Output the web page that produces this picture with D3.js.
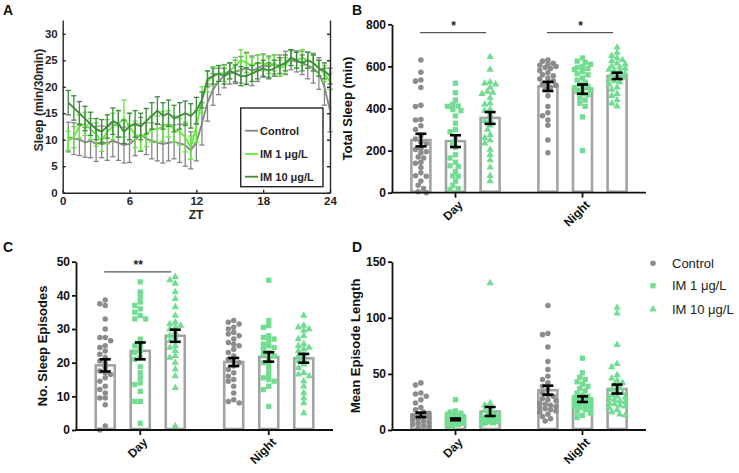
<!DOCTYPE html>
<html><head><meta charset="utf-8">
<script src="https://cdn.jsdelivr.net/npm/d3@7"></script>
<style>
body{margin:0;background:#fff;}
svg{display:block;font-family:"Liberation Sans",Arial,sans-serif;}
</style></head>
<body>
<svg id="chart" width="739" height="473"></svg>
<script>
// ---------------- DATA ----------------
const seriesNames = ["Control", "IM 1 μg/L", "IM 10 μg/L"];
const groups = ["Day", "Night"];

// Panel A: sleep per 30 min (ZT 0.5 .. 24)
const zt = [0.5,1,1.5,2,2.5,3,3.5,4,4.5,5,5.5,6,6.5,7,7.5,8,8.5,9,9.5,10,10.5,11,11.5,12,12.5,13,13.5,14,14.5,15,15.5,16,16.5,17,17.5,18,18.5,19,19.5,20,20.5,21,21.5,22,22.5,23,23.5,24];
const ctrlSleep = [10.5,10.2,10.0,9.5,9.8,9.2,9.6,9.3,9.8,9.4,9.0,9.2,10.0,11.0,10.2,9.8,9.5,9.2,9.4,9.6,9.3,9.0,8.0,9.5,13.0,17.0,19.5,21.0,22.0,22.5,22.8,23.2,23.5,23.0,23.5,24.0,23.8,24.2,24.0,24.5,25.0,24.8,24.5,24.0,23.5,22.5,20.0,15.5];
const ctrlErr   = [2.8,3.0,3.0,2.8,3.2,3.3,3.0,3.2,3.0,3.3,3.4,3.5,3.0,3.2,3.0,3.4,3.5,3.6,3.4,3.2,3.6,4.0,3.5,3.5,4.0,3.5,3.0,2.5,2.2,2.0,2.2,2.5,3.0,2.8,2.5,2.2,2.0,1.8,2.0,2.2,1.8,2.0,2.2,2.5,2.8,3.0,3.5,4.0];
const im1Sleep  = [9.8,10.5,12.5,13.0,12.0,11.0,9.8,11.5,12.5,13.0,14.0,12.5,11.0,10.5,11.0,12.0,12.0,12.5,13.0,12.0,11.5,10.5,8.5,12.5,17.5,21.0,22.0,22.5,22.5,23.0,24.0,25.0,24.5,24.0,24.5,24.5,24.0,24.5,23.5,24.0,25.5,25.0,25.5,25.0,24.5,23.5,22.5,21.0];
const im1Err    = [1.8,2.0,2.2,2.2,2.0,2.2,2.0,2.3,2.5,2.5,3.5,2.5,2.5,2.5,2.3,2.5,2.5,2.8,2.5,2.5,2.5,2.8,2.2,3.0,2.5,2.0,1.8,1.5,1.5,1.5,1.5,2.0,1.8,1.5,1.5,1.5,1.5,1.5,1.5,1.5,1.5,1.5,1.5,1.5,1.5,1.5,1.5,1.5];
const im10Sleep = [17.0,16.0,15.0,14.0,13.0,12.0,11.5,12.5,13.5,13.0,11.5,12.5,13.0,12.5,13.5,14.5,15.5,14.5,15.0,14.0,14.5,15.0,14.5,15.5,17.5,21.5,22.0,22.5,22.0,23.0,22.5,22.0,22.0,22.5,23.0,23.5,23.0,23.5,24.0,24.5,25.5,25.0,24.5,25.0,24.5,23.5,23.0,22.0];
const im10Err   = [2.3,2.3,2.2,2.3,2.2,2.0,2.3,2.2,2.5,2.5,2.2,2.5,2.5,2.5,2.4,2.5,2.6,2.5,2.5,2.5,2.5,2.3,2.3,2.5,1.5,1.5,1.5,1.5,1.5,1.5,1.6,1.8,1.6,1.5,1.5,1.5,1.5,1.5,1.5,1.5,1.5,1.5,1.5,1.5,1.5,1.5,1.5,1.5];
const ztTicks = [0,6,12,18,24];
const sleepTicks = [0,5,10,15,20,25,30];

// Panel B: total sleep (min) — bar mean, SEM, and individual flies
const totalMean = {Day:[250,245,355], Night:[505,492,555]};
const totalSem  = {Day:[30,28,28], Night:[22,22,15]};
const totalDayCtrl = [630,572,535,530,500,415,410,345,348,318,300,270,255,240,232,210,205,195,190,170,165,145,140,120,95,80,78,55,35,20,5,0];
const totalDayIm1  = [520,475,440,420,412,410,395,390,365,330,300,290,255,235,215,180,165,145,128,125,100,80,78,55,35,20,15];
const totalDayIm10 = [645,585,525,520,515,500,480,475,470,450,425,420,395,390,370,345,340,320,300,275,260,250,235,205,180,155,120,80,55];
const totalNightCtrl = [630,625,615,610,605,600,595,590,580,570,560,555,545,540,530,520,515,510,500,490,460,410,380,365,345,320,250,190];
const totalNightIm1  = [640,625,620,610,600,595,590,585,575,565,560,545,535,525,515,505,500,495,490,480,470,465,450,440,425,410,360,200];
const totalNightIm10 = [690,665,650,640,630,625,615,610,600,595,590,585,580,575,565,560,550,545,540,530,525,515,500,490,470,460,440,425,410];
const totalTicks = [0,200,400,600,800];

// Panel C: number of sleep episodes
const episMean = {Day:[19.2,23.5,28.0], Night:[20.2,21.7,21.3]};
const episSem  = {Day:[1.8,2.5,1.8], Night:[1.2,1.4,1.3]};
const episDayCtrl = [38.6,37.5,37.0,33.0,30.0,27.5,27.5,26.5,25.0,24.5,23.5,22.5,21.5,20.5,20.0,18.5,17.5,17.0,16.5,15.5,14.5,13.0,12.0,11.0,9.5,9.5,7.5,1.2,0];
const episDayIm1  = [44,41,39.5,38,37,36,35,34,33,33,27,25,25,23.5,23,21.5,21,18.8,17,15.5,14,13.5,11.5,8.5,8.5,2];
const episDayIm10 = [45.5,44.5,43.5,41,39,36.5,34,32,31.5,31,30.5,30,29,28,27.5,26.5,25,24.5,23.5,22,21.5,20,18,16,12.5,1.2];
const episNightCtrl = [32.5,32,31.5,30.5,30,29,28.5,28,27,26,25.5,25,24,23,22,21,20.5,20,19,18,17,16,15,14.5,13,11,9,8.5,8];
const episNightIm1  = [44.5,32.5,31,30.5,28,27.5,27,26.5,25.5,25,24.5,24,23,22.5,22,21,20,19.5,18,16.5,15.5,15,14.5,13,12,7];
const episNightIm10 = [34,31,30.5,30,29.5,28,27,25.5,25,24.5,24,23.5,22.5,22,21,20.5,19.5,18.5,17,16.5,16,14.5,13,11,9.5,8,5];
const episTicks = [0,10,20,30,40,50];

// Panel D: mean episode length
const lenMean = {Day:[13.5,9.5,16.5], Night:[35.5,27.5,36.5]};
const lenSem  = {Day:[2,0.8,4], Night:[4,2.5,4]};
const lenDayCtrl = [42,40,33,32,30,27,24,20,18,16,15,14,13,12,11,10,9,8,7,6,5,4,3,2];
const lenDayIm1  = [27,17,16,15,14,13,12,12,11,11,10,10,9,9,9,8,8,7,7,6,6,5,5,4,3];
const lenDayIm10 = [131,24,22,19,17,15,14,13,12,12,11,10,10,9,9,8,8,7,7,6,6,5];
const lenNightCtrl = [111,86,85,74,61,54,48,45,42,39,36,33,31,30,28,27,26,24,23,22,21,20,19,18,17,16,14,12,10,8];
const lenNightIm1  = [64,51,47,45,43,41,39,37,35,33,31,30,29,28,27,26,25,24,23,22,21,20,19,18,16,15,13,11];
const lenNightIm10 = [109,104,76,59,56,49,46,44,42,40,38,36,34,33,31,30,29,28,27,26,25,24,23,22,21,20,18,16,14,13];
const lenTicks = [0,50,100,150];

// ---------------- STYLE ----------------
const lineColors = ["#858585", "#62e83a", "#3f8a3f"];
const ptColors = ["#8c8c8c", "#72dd92", "#72dd92"];
const shapes = [d3.symbolCircle, d3.symbolSquare, d3.symbolTriangle];
const shapeSize = [24, 28, 24];
const barStroke = "#a3a3a3";

const svg = d3.select("#chart");

// ---------------- PANEL A ----------------
(function(){
  const x = d3.scaleLinear().domain([0,24]).range([62.7,330]);
  const y = d3.scaleLinear().domain([0,32.6]).range([192.7,20]);
  const g = svg.append("g");
  const data = [
    {name:seriesNames[0], m:ctrlSleep, e:ctrlErr, c:lineColors[0]},
    {name:seriesNames[1], m:im1Sleep, e:im1Err, c:lineColors[1]},
    {name:seriesNames[2], m:im10Sleep, e:im10Err, c:lineColors[2]}
  ];
  data.forEach(s=>{
    const gs = g.append("g").attr("stroke", s.c).attr("fill","none").attr("stroke-width",1.3);
    zt.forEach((t,i)=>{
      const cx = x(t), y1 = y(s.m[i]-s.e[i]), y2 = y(s.m[i]+s.e[i]);
      gs.append("line").attr("x1",cx).attr("x2",cx).attr("y1",y1).attr("y2",y2);
      gs.append("line").attr("x1",cx-2.6).attr("x2",cx+2.6).attr("y1",y1).attr("y2",y1);
      gs.append("line").attr("x1",cx-2.6).attr("x2",cx+2.6).attr("y1",y2).attr("y2",y2);
    });
    g.append("path").datum(s.m).attr("fill","none").attr("stroke",s.c).attr("stroke-width",1.8)
      .attr("d", d3.line().x((d,i)=>x(zt[i])).y(d=>y(d)));
  });
  // axes
  const ax = svg.append("g");
  const yl = ax.append("g").attr("transform","translate(62.7,0)")
    .call(d3.axisLeft(y).tickValues(sleepTicks).tickSize(-3).tickPadding(5).tickSizeOuter(0));
  const yr = ax.append("g").attr("transform","translate(330,0)")
    .call(d3.axisRight(y).tickValues(sleepTicks).tickSize(-3).tickFormat("").tickSizeOuter(0));
  const xb = ax.append("g").attr("transform","translate(0,192.7)")
    .call(d3.axisBottom(x).tickValues(ztTicks).tickSize(-3).tickPadding(4).tickSizeOuter(0));
  [yl,yr,xb].forEach(a=>{
    a.selectAll("path,line").attr("stroke","#262626").attr("stroke-width",1.4);
    a.selectAll("text").attr("font-family","Liberation Sans, Arial").attr("font-weight","bold").attr("font-size",11.5).attr("fill","#262626");
  });
  svg.append("text").attr("x",196).attr("y",219).attr("text-anchor","middle")
    .attr("font-weight","bold").attr("font-size",12).attr("fill","#262626").text("ZT");
  svg.append("text").attr("transform","translate(43,100) rotate(-90)").attr("text-anchor","middle")
    .attr("font-weight","bold").attr("font-size",12).attr("fill","#262626").text("Sleep (min/30min)");
  // legend
  const lg = svg.append("g");
  lg.append("rect").attr("x",240.7).attr("y",108).attr("width",82.3).attr("height",78.7)
    .attr("fill","#fff").attr("stroke","#262626").attr("stroke-width",1.4);
  data.forEach((s,i)=>{
    const yy = [130.7,154,176.7][i];
    lg.append("line").attr("x1",245).attr("x2",258).attr("y1",yy).attr("y2",yy).attr("stroke",s.c).attr("stroke-width",1.8);
    lg.append("text").attr("x",260).attr("y",yy+4).attr("font-weight","bold").attr("font-size",11).attr("fill","#262626").text(s.name);
  });
})();

// ---------------- BAR+SCATTER PANELS ----------------
function swarm(vals, y, s, maxOff){
  const pts = vals.map(v=>({v, y:y(v), x:0})).sort((a,b)=>a.y-b.y);
  const placed = [];
  pts.forEach(p=>{
    let best = 0, bestD = -1;
    for(let k=0;k<40;k++){
      const off = k===0 ? 0 : (k%2 ? -1 : 1)*Math.ceil(k/2)*s/2;
      if(Math.abs(off) > maxOff) break;
      let dmin = Infinity;
      placed.forEach(q=>{ const d=(q.x-off)*(q.x-off)+(q.y-p.y)*(q.y-p.y); if(d<dmin) dmin=d; });
      if(dmin >= s*s*0.85){ best = off; bestD = Infinity; break; }
      if(dmin > bestD){ bestD = dmin; best = off; }
    }
    p.x = best;
    placed.push(p);
  });
  return pts;
}

function barPanel(opt){
  const g = svg.append("g");
  const x = d3.scaleBand().domain(groups).range([opt.x0,opt.x1]).paddingInner(0).paddingOuter(0);
  const inner = d3.scalePoint().domain([0,1,2]).range([-0.2725*x.bandwidth(), 0.2725*x.bandwidth()]);
  const y = d3.scaleLinear().domain([0,opt.ymax]).range([opt.y0,opt.y1]);
  const bw = 19;
  groups.forEach(gr=>{
    [0,1,2].forEach(si=>{
      const cx = x(gr)+x.bandwidth()/2+inner(si);
      const m = opt.mean[gr][si];
      g.append("rect").attr("x",cx-bw/2).attr("y",y(m)).attr("width",bw).attr("height",y(0)-y(m)-1)
        .attr("fill","#fff").attr("stroke",barStroke).attr("stroke-width",2.6);
    });
  });
  groups.forEach(gr=>{
    [0,1,2].forEach(si=>{
      const cx = x(gr)+x.bandwidth()/2+inner(si);
      const pts = swarm(opt.points[gr][si], y, 5.4, 9.5);
      g.selectAll(null).data(pts).enter().append("path")
        .attr("d", d3.symbol().type(shapes[si]).size(shapeSize[si]))
        .attr("transform", d=>`translate(${cx+d.x},${d.y})`)
        .attr("fill", ptColors[si]);
    });
  });
  groups.forEach(gr=>{
    [0,1,2].forEach(si=>{
      const cx = x(gr)+x.bandwidth()/2+inner(si);
      const m = opt.mean[gr][si], e = opt.sem[gr][si];
      const y1 = y(m-e), y2 = y(m+e);
      const eg = g.append("g").attr("stroke","#000").attr("stroke-width",2.6);
      eg.append("line").attr("x1",cx).attr("x2",cx).attr("y1",y1).attr("y2",y2);
      eg.append("line").attr("x1",cx-5.5).attr("x2",cx+5.5).attr("y1",y1).attr("y2",y1);
      eg.append("line").attr("x1",cx-5.5).attr("x2",cx+5.5).attr("y1",y2).attr("y2",y2);
    });
  });
  // axes
  const ya = svg.append("g").attr("transform",`translate(${opt.x0},0)`)
    .call(d3.axisLeft(y).tickValues(opt.ticks).tickSize(4).tickPadding(2).tickSizeOuter(0));
  ya.select(".domain").attr("stroke","#111").attr("stroke-width",1.8);
  ya.selectAll(".tick line").attr("stroke","#111").attr("stroke-width",1.8);
  ya.selectAll("text").attr("font-family","Liberation Sans, Arial").attr("font-weight","bold").attr("font-size",12).attr("fill","#111");
  const xa = svg.append("g").attr("transform",`translate(0,${opt.y0})`)
    .call(d3.axisBottom(x).tickSize(5).tickSizeOuter(0).tickFormat(""));
  xa.select(".domain").attr("stroke","#111").attr("stroke-width",1.8).attr("d",`M${opt.x0-1},0H${opt.x1}`);
  xa.selectAll(".tick line").attr("stroke","#111").attr("stroke-width",1.8);
  groups.forEach(gr=>{
    const cx = x(gr)+x.bandwidth()/2;
    svg.append("text").attr("transform",`translate(${cx+5},${opt.y0+10}) rotate(-45)`)
      .attr("text-anchor","end").attr("dy","0.35em").attr("font-weight","bold").attr("font-size",12).attr("fill","#111").text(gr);
  });
  svg.append("text").attr("transform",`translate(${opt.labelX},${(opt.y0+opt.y1)/2}) rotate(-90)`)
    .attr("text-anchor","middle").attr("font-weight","bold").attr("font-size",13).attr("fill","#111").text(opt.label);
  // significance
  (opt.sig||[]).forEach(sg=>{
    const c0 = x(sg.group)+x.bandwidth()/2+inner(0);
    const c2 = x(sg.group)+x.bandwidth()/2+inner(2);
    const yy = y(sg.y);
    svg.append("line").attr("x1",c0-1).attr("x2",c2-4).attr("y1",yy).attr("y2",yy).attr("stroke","#555").attr("stroke-width",1.2);
    svg.append("text").attr("x",(c0+c2)/2-2).attr("y",yy-3).attr("text-anchor","middle")
      .attr("font-size",12).attr("font-weight","bold").attr("fill","#222").text(sg.label);
  });
}

barPanel({x0:392, x1:646, y0:192.7, y1:24.3, ymax:800, ticks:totalTicks, mean:totalMean, sem:totalSem,
  points:{Day:[totalDayCtrl,totalDayIm1,totalDayIm10], Night:[totalNightCtrl,totalNightIm1,totalNightIm10]},
  label:"Total Sleep (min)", labelX:352, sig:[{group:"Day",label:"*",y:760},{group:"Night",label:"*",y:760}]});

barPanel({x0:76, x1:333, y0:430, y1:261.7, ymax:50, ticks:episTicks, mean:episMean, sem:episSem,
  points:{Day:[episDayCtrl,episDayIm1,episDayIm10], Night:[episNightCtrl,episNightIm1,episNightIm10]},
  label:"No. Sleep Episodes", labelX:47, sig:[{group:"Day",label:"**",y:47}]});

barPanel({x0:392, x1:646, y0:430, y1:261.7, ymax:150, ticks:lenTicks, mean:lenMean, sem:lenSem,
  points:{Day:[lenDayCtrl,lenDayIm1,lenDayIm10], Night:[lenNightCtrl,lenNightIm1,lenNightIm10]},
  label:"Mean Episode Length", labelX:360});

// legend for D
seriesNames.forEach((n,i)=>{
  const yy = [263.3,285.7,309.3][i];
  svg.append("path").attr("d", d3.symbol().type(shapes[i]).size(shapeSize[i]))
    .attr("transform",`translate(653,${yy})`).attr("fill",ptColors[i]);
  svg.append("text").attr("x",672).attr("y",yy+4.5).attr("font-size",13).attr("fill","#222").text(n);
});

// panel letters
[["A",3,15],["B",352,15],["C",3,252],["D",352,252]].forEach(([t,xx,yy])=>{
  svg.append("text").attr("x",xx).attr("y",yy).attr("font-weight","bold").attr("font-size",14).attr("fill","#111").text(t);
});
</script>
</body></html>
